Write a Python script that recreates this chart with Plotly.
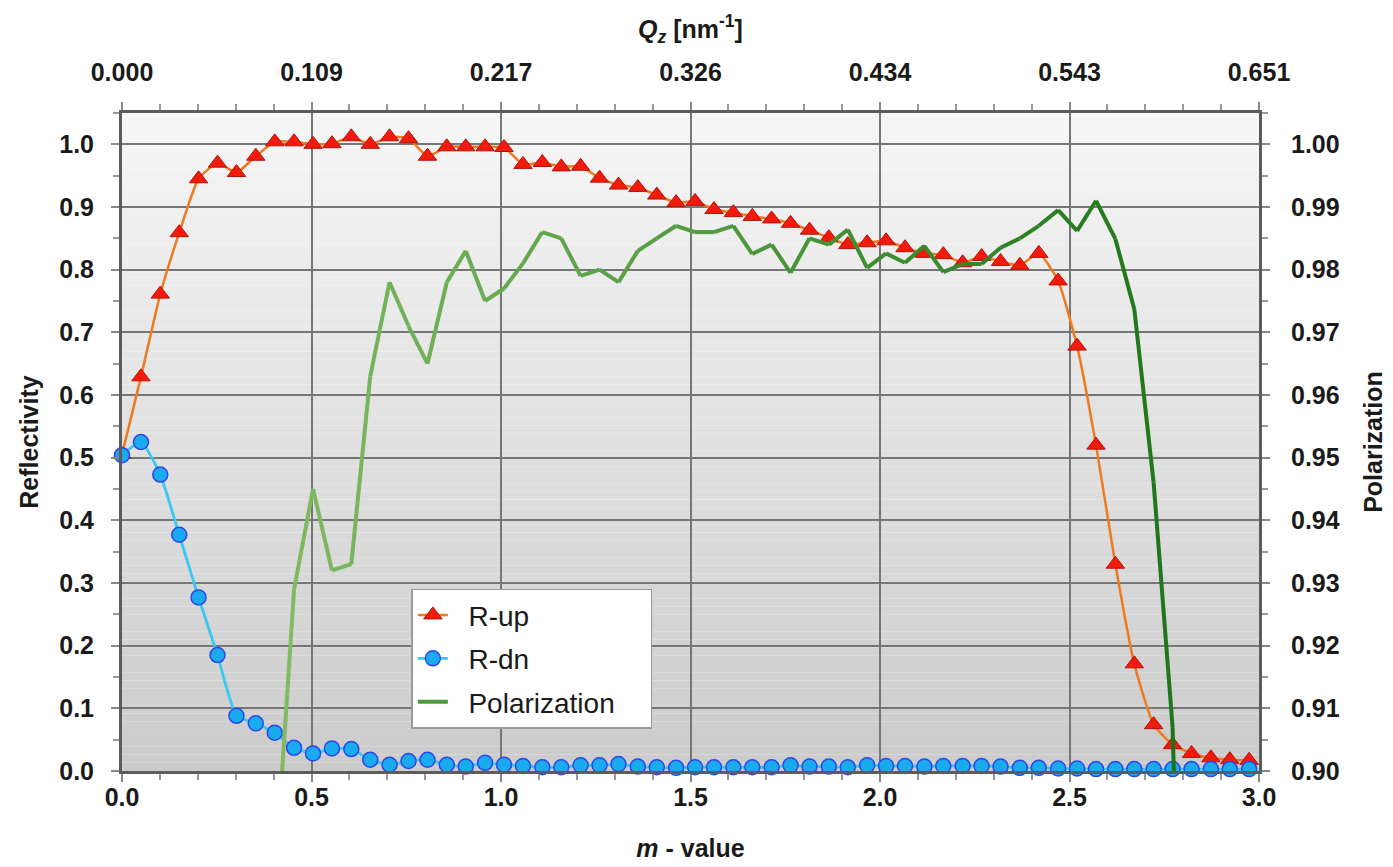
import plotly.graph_objects as go

# m-value positions of the measured points
m_value = [0.000, 0.050, 0.101, 0.151, 0.202, 0.252, 0.302, 0.353, 0.403, 0.454,
           0.504, 0.554, 0.605, 0.655, 0.706, 0.756, 0.806, 0.857, 0.907, 0.958,
           1.008, 1.058, 1.109, 1.159, 1.210, 1.260, 1.310, 1.361, 1.411, 1.462,
           1.512, 1.562, 1.613, 1.663, 1.714, 1.764, 1.814, 1.865, 1.915, 1.966,
           2.016, 2.066, 2.117, 2.167, 2.218, 2.268, 2.318, 2.369, 2.419, 2.470,
           2.520, 2.570, 2.621, 2.671, 2.722, 2.772, 2.822, 2.873, 2.923, 2.974]

r_up = [0.505, 0.629, 0.761, 0.859, 0.945, 0.970, 0.955, 0.981, 1.004, 1.004,
        1.000, 1.001, 1.012, 1.000, 1.012, 1.009, 0.981, 0.996, 0.996, 0.996,
        0.995, 0.968, 0.971, 0.964, 0.965, 0.946, 0.935, 0.931, 0.919, 0.907,
        0.909, 0.896, 0.891, 0.885, 0.881, 0.874, 0.863, 0.851, 0.840, 0.843,
        0.846, 0.835, 0.826, 0.824, 0.811, 0.821, 0.813, 0.807, 0.826, 0.782,
        0.678, 0.520, 0.330, 0.171, 0.074, 0.042, 0.028, 0.021, 0.018, 0.017]

r_dn = [0.504, 0.525, 0.473, 0.377, 0.277, 0.185, 0.088, 0.076, 0.061, 0.037,
        0.028, 0.036, 0.035, 0.018, 0.010, 0.016, 0.018, 0.010, 0.007, 0.013,
        0.010, 0.008, 0.006, 0.006, 0.009, 0.009, 0.011, 0.007, 0.006, 0.005,
        0.006, 0.006, 0.006, 0.006, 0.006, 0.009, 0.007, 0.007, 0.006, 0.009,
        0.008, 0.008, 0.007, 0.008, 0.008, 0.008, 0.007, 0.005, 0.005, 0.004,
        0.004, 0.003, 0.003, 0.003, 0.003, 0.003, 0.003, 0.003, 0.003, 0.003]

polarization = [None, None, None, None, None, None, None, None, 0.882, 0.929,
                0.945, 0.932, 0.933, 0.963, 0.978, 0.971, 0.965, 0.978, 0.983, 0.975,
                0.977, 0.981, 0.986, 0.985, 0.979, 0.980, 0.978, 0.983, 0.985, 0.987,
                0.986, 0.986, 0.987, 0.9825, 0.984, 0.9795, 0.985, 0.984, 0.9864, 0.9803,
                0.9826, 0.9811, 0.9838, 0.9796, 0.9809, 0.9809, 0.9835, 0.985, 0.987, 0.9895,
                0.9862, 0.991, 0.9849, 0.9737, 0.946, 0.907, 0.800, None, None, None]

x_ticks = [0.0, 0.5, 1.0, 1.5, 2.0, 2.5, 3.0]
qz_labels = ["0.000", "0.109", "0.217", "0.326", "0.434", "0.543", "0.651"]

FONT = "Liberation Sans, Arial, sans-serif"
GRID = "#767676"
AXIS = "#5c5c5c"
NB = "\u00a0"

UP_LINE = dict(color="#EE7A1E", width=2.5, shape="spline", smoothing=0.5)
UP_MARK = dict(symbol="triangle-up", size=16, color="#F21A0A", line=dict(color="#B5120A", width=1))
DN_LINE = dict(color="#38C8F2", width=2.8, shape="spline", smoothing=0.5)
DN_MARK = dict(symbol="circle", size=15, color="#1AAAF0", line=dict(color="#2F45E6", width=1.5))

fig = go.Figure()

# gradient plot background (light at top, darker at bottom)
nb = 80
top_c = (246, 246, 246)
bot_c = (203, 203, 203)
for k in range(nb):
    t = (k + 0.5) / nb
    c = tuple(round(bot_c[j] + (top_c[j] - bot_c[j]) * t) for j in range(3))
    fig.add_shape(type="rect", xref="paper", yref="paper",
                  x0=0, x1=1, y0=k / nb, y1=(k + 1) / nb,
                  fillcolor="rgb(%d,%d,%d)" % c, line=dict(width=0), layer="below")

# legend entries (in legend order)
fig.add_trace(go.Scatter(x=[None], y=[None], name=NB * 2 + "R-up", mode="lines+markers",
                         legendgroup="a", line=UP_LINE, marker=UP_MARK))
fig.add_trace(go.Scatter(x=[None], y=[None], name=NB * 2 + "R-dn", mode="lines+markers",
                         legendgroup="b", line=DN_LINE, marker=DN_MARK))
fig.add_trace(go.Scatter(x=[None], y=[None], yaxis="y2", name=NB * 2 + "Polarization" + NB * 4,
                         mode="lines", legendgroup="c", line=dict(color="#4E9A3A", width=4)))

# Polarization as colour-graded segments
c0 = (128, 186, 98)
c1 = (28, 118, 24)
valid = [i for i, p in enumerate(polarization) if p is not None]
i_first, i_last = valid[0], valid[-1]
for i in range(i_first, i_last):
    t = (i - i_first) / (i_last - 1 - i_first)
    c = tuple(round(c0[j] + (c1[j] - c0[j]) * t) for j in range(3))
    fig.add_trace(go.Scatter(
        x=m_value[i:i + 2], y=polarization[i:i + 2], yaxis="y2", mode="lines",
        line=dict(color="rgb(%d,%d,%d)" % c, width=4),
        showlegend=False, hoverinfo="skip", legendgroup="c"))

fig.add_trace(go.Scatter(
    x=m_value, y=r_up, name="R-up", mode="lines+markers", legendgroup="a",
    showlegend=False, line=UP_LINE, marker=UP_MARK, cliponaxis=False))

fig.add_trace(go.Scatter(
    x=m_value, y=r_dn, name="R-dn", mode="lines+markers", legendgroup="b",
    showlegend=False, line=DN_LINE, marker=DN_MARK, cliponaxis=False))

# invisible trace to activate the top Qz axis
fig.add_trace(go.Scatter(x=m_value, y=r_up, xaxis="x2", mode="lines",
                         opacity=0, showlegend=False, hoverinfo="skip"))

tick_font = dict(family=FONT, size=25, color="#1a1a1a", weight="bold")
title_font = dict(family=FONT, size=25, color="#1a1a1a", weight="bold")

fig.update_layout(
    width=1393, height=867,
    margin=dict(l=122, r=134, t=113, b=96),
    paper_bgcolor="white",
    plot_bgcolor="rgba(0,0,0,0)",
    showlegend=True,
    legend=dict(x=0.2545, y=0.277, xanchor="left", yanchor="top",
                bgcolor="white", bordercolor="#9a9a9a", borderwidth=1.5,
                font=dict(family=FONT, size=28, color="#1a1a1a"),
                tracegroupgap=4, traceorder="grouped"),
    xaxis=dict(range=[0, 3.0], tickvals=x_ticks, tickformat=".1f", automargin=False,
               showgrid=True, gridcolor=GRID, gridwidth=1.5,
               showline=True, linecolor=AXIS, linewidth=3,
               ticks="outside", ticklen=8, tickwidth=1.5, tickcolor="#888",
               minor=dict(ticks="outside", ticklen=6, dtick=0.1, tickcolor="#999", showgrid=False),
               tickfont=tick_font, ticklabelstandoff=-6, zeroline=False,
               title=dict(text="<i>m</i> - value", font=title_font, standoff=30)),
    xaxis2=dict(range=[0, 3.0], overlaying="x", side="top", anchor="y", automargin=False,
                tickvals=x_ticks, ticktext=qz_labels, showgrid=False,
                showline=True, linecolor=AXIS, linewidth=3,
                ticks="outside", ticklen=8, tickwidth=1.5, tickcolor="#888",
                minor=dict(ticks="outside", ticklen=6, dtick=0.1, tickcolor="#999", showgrid=False),
                tickfont=tick_font, ticklabelstandoff=11, zeroline=False,
                title=dict(text="<i>Q<sub>z</sub></i> [nm<sup>-1</sup>]", font=title_font, standoff=13)),
    yaxis=dict(range=[0, 1.05], dtick=0.1, tickformat=".1f", automargin=False,
               showgrid=True, gridcolor=GRID, gridwidth=1.5,
               showline=True, linecolor=AXIS, linewidth=3,
               ticks="outside", ticklen=8, tickwidth=1.5, tickcolor="#888",
               minor=dict(ticks="outside", ticklen=6, dtick=0.05, tickcolor="#999", showgrid=False),
               tickfont=tick_font, ticklabelstandoff=12, zeroline=False,
               title=dict(text="Reflectivity", font=title_font, standoff=14)),
    yaxis2=dict(range=[0.9, 1.005], dtick=0.01, tickformat=".2f", overlaying="y", side="right",
                automargin=False,
                showgrid=False, showline=True, linecolor=AXIS, linewidth=3,
                ticks="outside", ticklen=8, tickwidth=1.5, tickcolor="#888",
                minor=dict(ticks="outside", ticklen=6, dtick=0.005, tickcolor="#999", showgrid=False),
                tickfont=tick_font, ticklabelstandoff=16, zeroline=False,
                title=dict(text="Polarization", font=title_font, standoff=26)),
)

fig.write_html("out.html")
